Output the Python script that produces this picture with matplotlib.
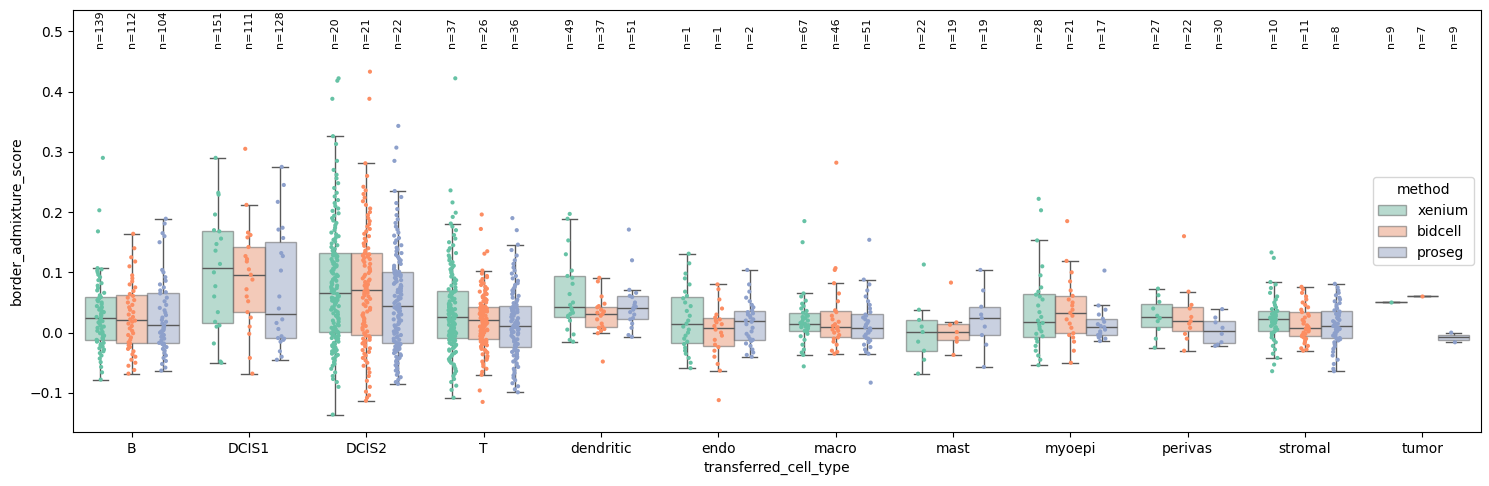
import numpy as np
import pandas as pd
import matplotlib
matplotlib.use("Agg")
import matplotlib.pyplot as plt
import seaborn as sns

cell_types = ["B", "DCIS1", "DCIS2", "T", "dendritic", "endo", "macro",
              "mast", "myoepi", "perivas", "stromal", "tumor"]
methods = ["xenium", "bidcell", "proseg"]

# n= labels printed above each box (as in the original figure)
n_counts = [[139, 112, 104], [151, 111, 128], [20, 21, 22], [37, 26, 36],
            [49, 37, 51], [1, 1, 2], [67, 46, 51], [22, 19, 19],
            [28, 21, 17], [27, 22, 30], [10, 11, 8], [9, 7, 9]]

# border admixture scores
B_xenium = [-.078, -.066, -.057, -.049, -.043, -.038, -.034, -.031, -.028, -.026, -.023, -.021, -.019, -.017,
            -.015, -.013, -.012, -.011, -.009, -.007, -.005, -.003, -.001, .001, .003, .006, .008, .010, .012,
            .015, .017, .019, .021, .024, .026, .028, .030, .032, .034, .036, .038, .040, .042, .044, .047, .050,
            .052, .054, .056, .058, .059, .062, .066, .070, .074, .078, .082, .087, .092, .096, .100, .103, .105,
            .107, .168, .203, .290]
B_bidcell = [-.068, -.062, -.055, -.050, -.045, -.040, -.036, -.031, -.027, -.024, -.021, -.018, -.016, -.012,
             -.008, -.004, -.001, .003, .007, .011, .015, .018, .020, .022, .026, .030, .034, .038, .042, .046,
             .050, .054, .058, .061, .064, .069, .075, .080, .085, .090, .095, .110, .118, .125, .140, .164]
B_proseg = [-.063, -.058, -.052, -.047, -.042, -.038, -.034, -.030, -.027, -.024, -.021, -.019, -.018, -.017,
            -.013, -.010, -.007, -.004, -.002, .000, .002, .004, .006, .008, .010, .012, .015, .018, .021, .025,
            .029, .033, .037, .041, .046, .052, .058, .065, .067, .070, .075, .080, .086, .092, .100, .104, .150,
            .160, .165, .181, .189]

DCIS1_xenium = [-.050, -.048, -.018, .010, .012, .018, .034, .060, .077, .100, .114, .136, .147, .156, .168,
                .170, .196, .229, .232, .290]
DCIS1_bidcell = [-.068, -.042, -.002, .010, .025, .034, .052, .060, .072, .088, .096, .105, .118, .122, .127,
                 .142, .158, .162, .166, .212, .305]
DCIS1_proseg = [-.045, -.040, -.031, -.015, -.012, -.010, -.009, -.006, .006, .016, .022, .040, .060, .103,
                .127, .132, .157, .171, .174, .217, .245, .275]

DCIS2_xenium = [-.136, -.090, -.082, -.077, -.072, -.066, -.060, -.055, -.052, -.049, -.046, -.043, -.040, -.037,
                -.035, -.033, -.031, -.029, -.027, -.025, -.023, -.021, -.019, -.017, -.015, -.013, -.011, -.010,
                -.009, -.008, -.006, -.005, -.004, -.003, -.002, -.001, .000, .001, .002, .004, .006, .008, .010,
                .012, .014, .016, .018, .020, .022, .024, .026, .028, .030, .032, .034, .036, .038, .040, .042,
                .044, .046, .048, .050, .052, .053, .054, .055, .056, .057, .058, .059, .060, .061, .062, .064,
                .066, .068, .070, .071, .072, .073, .074, .076, .078, .080, .082, .084, .086, .088, .090, .092,
                .094, .096, .098, .100, .102, .104, .106, .108, .110, .112, .114, .116, .118, .120, .122, .124,
                .126, .127, .128, .129, .130, .131, .133, .136, .139, .142, .145, .148, .151, .154, .157, .160,
                .163, .166, .170, .174, .178, .182, .186, .190, .194, .198, .202, .206, .210, .215, .220, .226,
                .232, .240, .248, .256, .262, .270, .285, .313, .326, .388, .418, .422]
DCIS2_bidcell = [-.113, -.108, -.104, -.098, -.090, -.080, -.072, -.066, -.060, -.055, -.050, -.046, -.042, -.038,
                 -.035, -.032, -.029, -.026, -.023, -.020, -.018, -.016, -.014, -.012, -.010, -.008, -.006, -.005,
                 -.003, -.001, .002, .005, .008, .011, .014, .017, .020, .023, .026, .029, .032, .035, .038, .041,
                 .044, .047, .050, .053, .056, .058, .060, .062, .064, .066, .068, .070, .072, .074, .076, .078,
                 .080, .082, .084, .086, .088, .090, .093, .096, .099, .102, .105, .108, .111, .114, .117, .120,
                 .122, .124, .126, .128, .129, .130, .131, .133, .136, .140, .144, .148, .152, .156, .160, .164,
                 .168, .172, .176, .180, .185, .190, .195, .200, .206, .212, .218, .224, .230, .236, .242, .260,
                 .281, .388, .433]
DCIS2_proseg = [-.085, -.082, -.078, -.074, -.070, -.066, -.063, -.060, -.057, -.054, -.051, -.048, -.046, -.044,
                -.042, -.040, -.038, -.036, -.034, -.032, -.030, -.029, -.028, -.027, -.026, -.025, -.024, -.023,
                -.022, -.020, -.019, -.018, -.016, -.014, -.012, -.010, -.008, -.006, -.004, -.002, .000, .002,
                .004, .006, .008, .010, .012, .014, .016, .018, .020, .022, .024, .026, .028, .030, .032, .034,
                .036, .038, .040, .041, .042, .043, .045, .047, .049, .051, .053, .055, .057, .059, .061, .063,
                .065, .067, .069, .071, .073, .075, .077, .079, .081, .083, .085, .087, .089, .091, .093, .095,
                .096, .097, .098, .099, .100, .101, .102, .105, .108, .111, .114, .117, .120, .123, .126, .129,
                .132, .135, .138, .141, .145, .149, .153, .157, .161, .166, .171, .176, .182, .188, .195, .205,
                .215, .225, .235, .285, .307, .343]

T_xenium = [-.108, -.095, -.088, -.082, -.077, -.072, -.068, -.064, -.060, -.056, -.053, -.050, -.047, -.044,
            -.041, -.038, -.036, -.034, -.032, -.030, -.028, -.026, -.024, -.022, -.021, -.020, -.019, -.018,
            -.017, -.016, -.015, -.013, -.012, -.011, -.010, -.008, -.007, -.006, -.005, -.004, -.003, -.002,
            -.001, .000, .001, .002, .003, .004, .005, .006, .007, .008, .009, .010, .011, .012, .013, .014,
            .015, .016, .017, .018, .019, .020, .021, .022, .023, .024, .025, .026, .027, .028, .029, .030,
            .031, .032, .033, .034, .035, .036, .037, .038, .039, .040, .041, .042, .043, .044, .045, .046,
            .047, .048, .050, .052, .054, .056, .058, .060, .062, .064, .066, .067, .068, .069, .070, .072,
            .075, .078, .081, .084, .087, .090, .093, .096, .099, .102, .105, .108, .111, .114, .117, .120,
            .124, .128, .132, .136, .140, .145, .150, .156, .162, .170, .176, .181, .192, .199, .216, .236, .422]
T_bidcell = [-.115, -.096, -.070, -.065, -.060, -.056, -.052, -.048, -.045, -.042, -.039, -.036, -.033, -.031,
             -.029, -.027, -.025, -.023, -.021, -.020, -.019, -.018, -.017, -.016, -.015, -.014, -.013, -.012,
             -.011, -.010, -.008, -.006, -.004, -.002, .000, .001, .002, .003, .004, .005, .006, .007, .008,
             .009, .010, .011, .012, .013, .014, .015, .016, .017, .018, .019, .020, .021, .022, .023, .024,
             .025, .026, .027, .028, .029, .030, .031, .032, .033, .034, .035, .035, .036, .036, .037, .037,
             .038, .038, .039, .039, .040, .040, .041, .042, .043, .044, .046, .048, .050, .052, .054, .056,
             .058, .060, .062, .064, .066, .068, .070, .073, .076, .079, .082, .085, .089, .092, .094, .098,
             .103, .131, .135, .172, .196]
T_proseg = [-.099, -.094, -.089, -.084, -.079, -.075, -.071, -.067, -.063, -.060, -.057, -.054, -.051, -.048,
            -.045, -.042, -.040, -.038, -.036, -.034, -.032, -.030, -.029, -.028, -.026, -.025, -.023, -.021,
            -.019, -.017, -.015, -.013, -.011, -.009, -.007, -.005, -.003, -.001, .000, .001, .002, .003, .004,
            .005, .006, .007, .008, .009, .009, .010, .010, .011, .012, .013, .014, .015, .016, .017, .018,
            .019, .020, .022, .024, .026, .028, .030, .032, .034, .035, .036, .037, .038, .039, .040, .041,
            .042, .043, .044, .046, .049, .052, .055, .058, .061, .064, .067, .070, .073, .076, .079, .082,
            .086, .090, .094, .098, .103, .108, .114, .120, .128, .137, .146, .170, .190]

dendritic_xenium = [-.015, -.012, -.003, .005, .020, .026, .028, .031, .033, .037, .040, .046, .050, .064, .081,
                    .091, .094, .103, .130, .153, .189, .197]
dendritic_bidcell = [-.048, -.001, .003, .006, .008, .010, .015, .022, .028, .031, .033, .035, .038, .042, .044,
                     .048, .060, .085, .091]
dendritic_proseg = [-.007, -.004, .008, .015, .022, .024, .030, .034, .038, .041, .043, .046, .050, .059, .061,
                    .066, .071, .120, .171]

endo_xenium = [-.059, -.050, -.042, -.035, -.030, -.025, -.019, -.015, -.010, -.005, .000, .005, .010, .015,
               .020, .028, .036, .044, .050, .057, .061, .068, .080, .090, .098, .115, .131]
endo_bidcell = [-.112, -.063, -.052, -.040, -.030, -.024, -.020, -.012, -.005, .000, .005, .011, .014, .017,
                .020, .022, .025, .030, .040, .055, .072, .080]
endo_proseg = [-.040, -.037, -.033, -.028, -.022, -.018, -.014, -.012, -.010, -.006, -.002, .002, .008, .014,
               .018, .020, .022, .025, .028, .030, .032, .034, .037, .042, .046, .052, .058, .068, .080, .104]

macro_xenium = [-.056, -.037, -.033, -.028, -.020, -.012, -.006, -.002, .001, .003, .005, .007, .009, .010,
                .011, .012, .013, .014, .015, .016, .018, .020, .022, .024, .026, .028, .030, .033, .036, .040,
                .044, .048, .053, .060, .065, .150, .185]
macro_bidcell = [-.035, -.032, -.030, -.020, -.015, -.010, -.008, -.004, .000, .003, .005, .007, .009, .011,
                 .014, .018, .022, .028, .034, .037, .052, .065, .082, .104, .107, .282]
macro_proseg = [-.083, -.035, -.032, -.028, -.024, -.020, -.016, -.013, -.010, -.009, -.006, -.003, .000, .002,
                .004, .005, .006, .007, .009, .011, .013, .016, .019, .022, .025, .028, .030, .034, .040, .046,
                .052, .060, .070, .080, .088, .154]

mast_xenium = [-.068, -.045, -.030, -.015, .001, .010, .021, .038, .113]
mast_bidcell = [-.037, -.015, -.009, .001, .013, .017, .083]
mast_proseg = [-.057, -.020, -.004, .010, .024, .030, .043, .070, .104]

myoepi_xenium = [-.054, -.045, -.038, -.030, -.022, -.015, -.010, -.006, -.002, .002, .006, .010, .014, .016,
                 .020, .026, .034, .045, .055, .060, .063, .068, .075, .095, .110, .153, .203, .222]
myoepi_bidcell = [-.050, -.030, -.015, -.008, -.004, -.001, .008, .015, .022, .028, .033, .038, .045, .050,
                  .055, .061, .070, .085, .100, .119, .185]
myoepi_proseg = [-.014, -.010, -.008, -.006, -.004, -.001, .002, .005, .009, .011, .014, .018, .023, .030,
                 .038, .045, .103]

perivas_xenium = [-.025, -.010, .006, .019, .024, .028, .040, .051, .062, .073]
perivas_bidcell = [-.030, -.010, -.002, .008, .015, .019, .026, .040, .046, .068, .160]
perivas_proseg = [-.022, -.020, -.016, -.002, .008, .017, .025, .039]

stromal_xenium = [-.064, -.053, -.042, -.035, -.028, -.022, -.016, -.012, -.008, -.004, -.001, .001, .003,
                  .005, .007, .009, .011, .013, .015, .016, .017, .018, .020, .021, .023, .024, .025, .026,
                  .027, .028, .029, .030, .031, .032, .033, .034, .036, .039, .042, .046, .050, .055, .060,
                  .066, .074, .080, .084, .124, .133]
stromal_bidcell = [-.030, -.028, -.026, -.022, -.018, -.015, -.012, -.010, -.008, -.006, -.005, -.004, -.002,
                   .000, .002, .004, .005, .007, .008, .010, .012, .015, .018, .021, .025, .028, .031, .034,
                   .038, .042, .046, .050, .055, .060, .066, .072, .076]
stromal_proseg = [-.064, -.060, -.052, -.045, -.038, -.032, -.027, -.023, -.019, -.016, -.013, -.011, -.010,
                  -.009, -.007, -.005, -.003, -.001, .001, .003, .005, .006, .007, .008, .009, .011, .013, .015,
                  .017, .019, .021, .023, .025, .027, .029, .031, .033, .035, .037, .040, .043, .046, .049,
                  .052, .055, .058, .062, .066, .070, .075, .081]

tumor_xenium = [.051]
tumor_bidcell = [.060]
tumor_proseg = [-.000, -.016]

groups = {
    "B": [B_xenium, B_bidcell, B_proseg],
    "DCIS1": [DCIS1_xenium, DCIS1_bidcell, DCIS1_proseg],
    "DCIS2": [DCIS2_xenium, DCIS2_bidcell, DCIS2_proseg],
    "T": [T_xenium, T_bidcell, T_proseg],
    "dendritic": [dendritic_xenium, dendritic_bidcell, dendritic_proseg],
    "endo": [endo_xenium, endo_bidcell, endo_proseg],
    "macro": [macro_xenium, macro_bidcell, macro_proseg],
    "mast": [mast_xenium, mast_bidcell, mast_proseg],
    "myoepi": [myoepi_xenium, myoepi_bidcell, myoepi_proseg],
    "perivas": [perivas_xenium, perivas_bidcell, perivas_proseg],
    "stromal": [stromal_xenium, stromal_bidcell, stromal_proseg],
    "tumor": [tumor_xenium, tumor_bidcell, tumor_proseg],
}

rows = []
for ct in cell_types:
    for m, vals in zip(methods, groups[ct]):
        for v in vals:
            rows.append((ct, m, v))
df = pd.DataFrame(rows, columns=["transferred_cell_type", "method", "border_admixture_score"])

np.random.seed(0)
fig, ax = plt.subplots(figsize=(14.89, 4.86), dpi=100)
fig.subplots_adjust(left=0.049, right=0.9946, top=0.979, bottom=0.111)

sns.boxplot(data=df, x="transferred_cell_type", y="border_admixture_score", hue="method",
            order=cell_types, hue_order=methods, palette="Set2", showfliers=False,
            boxprops={"alpha": 0.5}, ax=ax)
sns.stripplot(data=df, x="transferred_cell_type", y="border_admixture_score", hue="method",
              order=cell_types, hue_order=methods, palette="Set2", dodge=True, size=3,
              jitter=True, legend=False, ax=ax)

# n= annotations above each box
w = 0.8 / len(methods)
for i, counts in enumerate(n_counts):
    for j, n in enumerate(counts):
        ax.text(i + (j - 1) * w, 0.472, f"n={n}", rotation=90, ha="center", va="bottom", fontsize=8)

ax.set_ylim(-0.165, 0.535)
ax.set_xlim(-0.5, len(cell_types) - 0.5)
sns.move_legend(ax, "center right", title="method")

fig.savefig("out.png", dpi=100)
